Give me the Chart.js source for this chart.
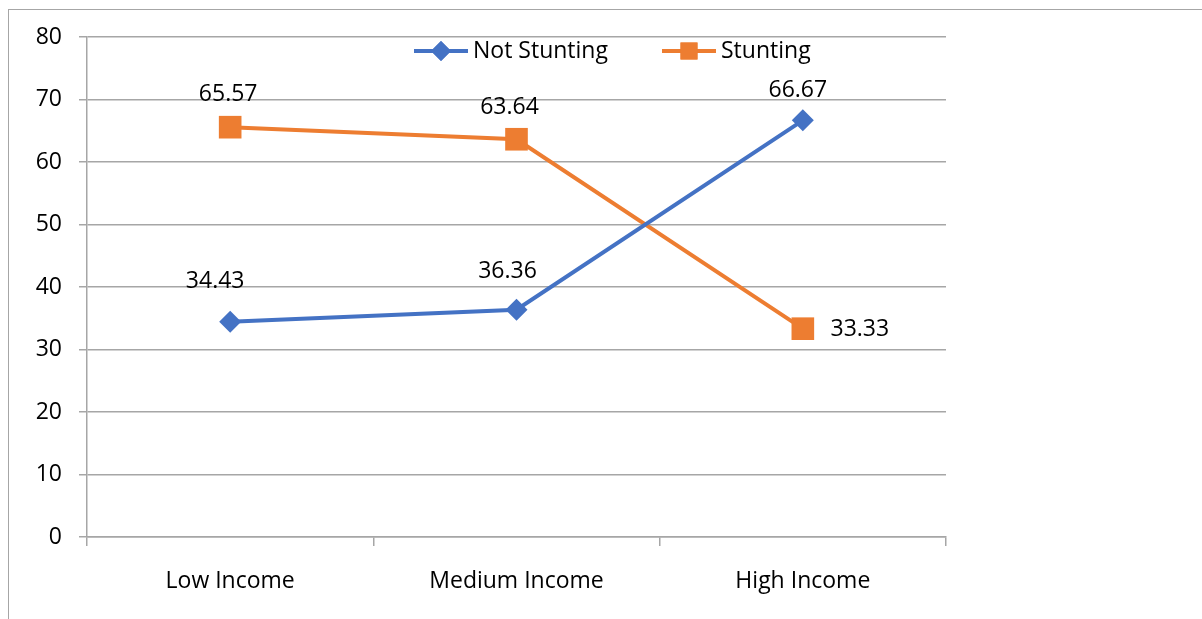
<!DOCTYPE html>
<html>
<head>
<meta charset="utf-8">
<script src="https://cdn.jsdelivr.net/npm/chart.js@4/dist/chart.umd.min.js"></script>
<style>
  html, body { margin: 0; padding: 0; background: #fff; overflow: hidden; }
  #wrap { position: relative; width: 1202px; height: 619px; }
  #frame { position: absolute; left: 8px; top: 9px; width: 1300px; height: 700px; border: 1.5px solid #a6a6a6; }
  canvas { position: absolute; left: 0; top: 0; }
</style>
</head>
<body>
<div id="wrap">
  <div id="frame"></div>
  <canvas id="chart" width="1202" height="619"></canvas>
</div>
<script>
// DATA
const categories = ['Low Income', 'Medium Income', 'High Income'];
const notStunting = [34.43, 36.36, 66.67];
const stunting = [65.57, 63.64, 33.33];
const yTicks = [0, 10, 20, 30, 40, 50, 60, 70, 80];

const BLUE = '#4472C4';
const ORANGE = '#ED7D31';
const FONT = '"Open Sans", "Liberation Sans", sans-serif';
const FSIZE = 23;

// label offsets from each point (dx, dy)
const labelOffsets = [
    [[-15, -40], [-9, -38], [-5, -30]],
    [[-2, -33], [-7, -32], [57, 1]]
];

// value labels drawn next to the points
const valueLabels = {
    id: 'valueLabels',
    afterDatasetsDraw(chart) {
        const ctx = chart.ctx;
        ctx.save();
        ctx.font = FSIZE + 'px ' + FONT;
        ctx.fillStyle = '#000';
        ctx.textAlign = 'center';
        ctx.textBaseline = 'middle';
        chart.data.datasets.forEach((ds, i) => {
            chart.getDatasetMeta(i).data.forEach((pt, j) => {
                const off = labelOffsets[i][j];
                ctx.fillText(ds.data[j].toFixed(2), pt.x + off[0], pt.y + off[1]);
            });
        });
        ctx.restore();
    }
};

// legend inside the plot, line + marker + text
const innerLegend = {
    id: 'innerLegend',
    afterDraw(chart) {
        const ctx = chart.ctx;
        const y = 51;
        const items = [
            { x: 414, ds: chart.data.datasets[0] },
            { x: 662, ds: chart.data.datasets[1] }
        ];
        ctx.save();
        items.forEach(it => {
            ctx.strokeStyle = it.ds.borderColor;
            ctx.lineWidth = 4;
            ctx.beginPath();
            ctx.moveTo(it.x, y);
            ctx.lineTo(it.x + 54, y);
            ctx.stroke();
            ctx.fillStyle = it.ds.borderColor;
            ctx.beginPath();
            Chart.helpers.drawPoint(ctx, {
                pointStyle: it.ds.pointStyle,
                radius: it.ds.pointStyle === 'rect' ? 12 : 10,
                borderWidth: 0
            }, it.x + 27, y);
            ctx.fill();
            ctx.fillStyle = '#000';
            ctx.font = FSIZE + 'px ' + FONT;
            ctx.textAlign = 'left';
            ctx.textBaseline = 'middle';
            ctx.fillText(it.ds.label, it.x + 59, y);
        });
        ctx.restore();
    }
};

new Chart(document.getElementById('chart'), {
    type: 'line',
    data: {
        labels: categories,
        datasets: [{
            label: 'Not Stunting',
            data: notStunting,
            borderColor: BLUE,
            backgroundColor: BLUE,
            borderWidth: 4,
            pointStyle: 'rectRot',
            pointRadius: 11,
            pointBorderWidth: 0,
            tension: 0
        }, {
            label: 'Stunting',
            data: stunting,
            borderColor: ORANGE,
            backgroundColor: ORANGE,
            borderWidth: 4,
            pointStyle: 'rect',
            pointRadius: 16,
            pointBorderWidth: 0,
            tension: 0
        }]
    },
    options: {
        responsive: false,
        animation: false,
        layout: { padding: { left: 0, right: 256, top: 37, bottom: 0 } },
        plugins: {
            legend: { display: false },
            tooltip: { enabled: false }
        },
        scales: {
            x: {
                offset: true,
                grid: {
                    offset: true,
                    drawOnChartArea: false,
                    color: '#a6a6a6',
                    lineWidth: 1.5,
                    tickLength: 9
                },
                border: { color: '#a6a6a6', width: 1.5 },
                ticks: {
                    color: '#000',
                    font: { family: FONT, size: FSIZE },
                    padding: 22,
                    maxRotation: 0
                },
                afterFit(scale) { scale.height = 82; }
            },
            y: {
                min: 0,
                max: 80,
                afterBuildTicks(scale) { scale.ticks = yTicks.map(v => ({ value: v })); },
                grid: {
                    color: '#a6a6a6',
                    lineWidth: 1.5,
                    tickLength: 8
                },
                border: { color: '#a6a6a6', width: 1.5 },
                ticks: {
                    color: '#000',
                    font: { family: FONT, size: FSIZE },
                    padding: 17
                },
                afterFit(scale) { scale.width = 87; }
            }
        }
    },
    plugins: [valueLabels, innerLegend]
});
</script>
</body>
</html>
